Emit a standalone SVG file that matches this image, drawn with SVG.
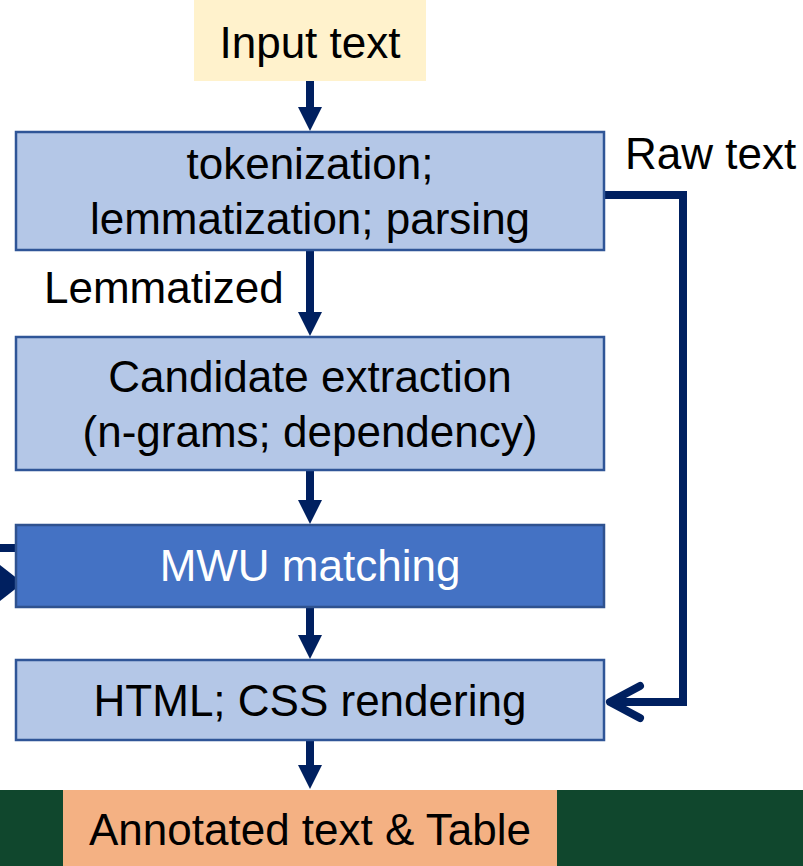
<svg xmlns="http://www.w3.org/2000/svg" width="803" height="866" viewBox="0 0 803 866">
<style>
  text { font-family: "Liberation Sans", Arial, sans-serif; font-size: 44px; fill: #000; }
  .c { text-anchor: middle; }
  .box { fill: #B4C7E7; stroke: #2F5597; stroke-width: 2.5; }
  .dark { fill: #4472C4; stroke: #2F528F; stroke-width: 2.5; }
  .conn { stroke: #002060; stroke-width: 8; fill: none; }
</style>
<defs>
  <marker id="ah" viewBox="0 0 24 24" refX="1" refY="12" markerWidth="24" markerHeight="24" markerUnits="userSpaceOnUse" orient="auto">
    <path d="M0,0 L24,12 L0,24 Z" fill="#002060"/>
  </marker>
</defs>
<rect x="0" y="0" width="803" height="866" fill="#FFFFFF"/>
<rect x="0" y="790" width="803" height="76" fill="#10472D"/>

<g id="connectors">
  <line class="conn" x1="310" y1="81" x2="310" y2="108" marker-end="url(#ah)"/>
  <line class="conn" x1="310" y1="250" x2="310" y2="313" marker-end="url(#ah)"/>
  <line class="conn" x1="310" y1="470" x2="310" y2="501" marker-end="url(#ah)"/>
  <line class="conn" x1="310" y1="607" x2="310" y2="636" marker-end="url(#ah)"/>
  <line class="conn" x1="310" y1="740" x2="310" y2="766" marker-end="url(#ah)"/>
  <polyline class="conn" points="604,195 683,195 683,702 612,702"/>
  <polyline class="conn" points="640,686 610,702 640,718" stroke-linecap="round" stroke-linejoin="round"/>
  <line class="conn" x1="0" y1="548" x2="16" y2="548"/>
  <path d="M0,565 L23,583 L0,601 Z" fill="#002060"/>
</g>

<g id="input">
  <rect x="194" y="0" width="232" height="81" fill="#FFF2CC"/>
  <text class="c" x="310" y="58">Input text</text>
</g>

<g id="tokenization">
  <rect class="box" x="16" y="132" width="588" height="118"/>
  <text class="c" x="310" y="179">tokenization;</text>
  <text class="c" x="310" y="234">lemmatization; parsing</text>
</g>

<g id="label-lemmatized">
  <text x="44" y="303">Lemmatized</text>
</g>

<g id="label-raw">
  <text x="625" y="169">Raw text</text>
</g>

<g id="candidate">
  <rect class="box" x="16" y="337" width="588" height="133"/>
  <text class="c" x="310" y="392">Candidate extraction</text>
  <text class="c" x="310" y="447">(n-grams; dependency)</text>
</g>

<g id="mwu">
  <rect class="dark" x="16" y="525" width="588" height="82"/>
  <text class="c" x="310" y="581" style="fill:#FFFFFF">MWU matching</text>
</g>

<g id="html">
  <rect class="box" x="16" y="660" width="588" height="80"/>
  <text class="c" x="310" y="716">HTML; CSS rendering</text>
</g>

<g id="output">
  <rect x="63" y="790" width="494" height="76" fill="#F4B183"/>
  <text class="c" x="310" y="845">Annotated text &amp; Table</text>
</g>
</svg>
